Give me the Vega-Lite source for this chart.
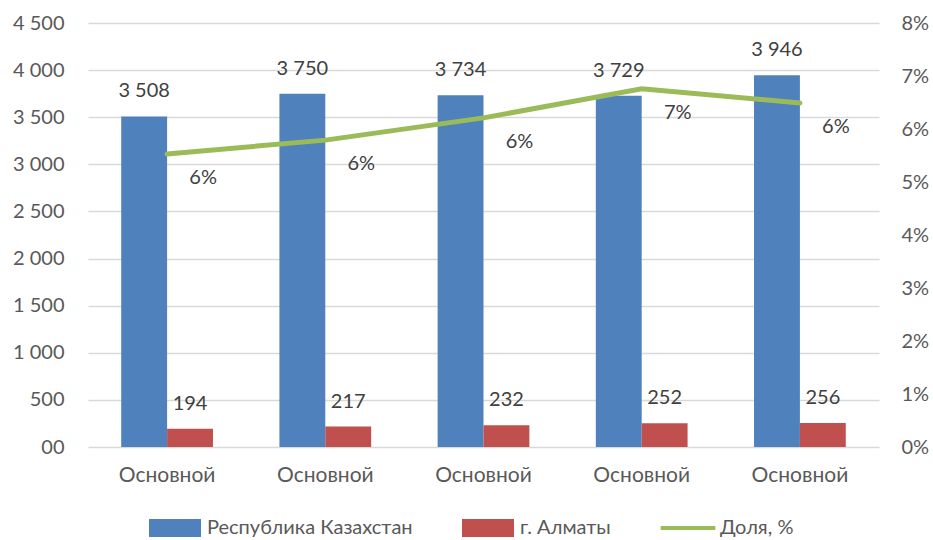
{
  "$schema": "https://vega.github.io/schema/vega-lite/v6.json",
  "width": 791,
  "height": 424,
  "autosize": {"type": "none"},
  "padding": {"left": 88, "top": 23, "right": 54, "bottom": 93},
  "config": {
    "locale": {"number": {"decimal": ",", "thousands": " ", "grouping": [3], "currency": ["", ""]}},
    "font": "Lato",
    "view": {"stroke": null},
    "axis": {"labelFont": "Lato", "labelFontSize": 20, "labelColor": "#595959", "grid": false, "domain": false, "ticks": false, "title": null},
    "legend": {"labelFont": "Lato", "labelFontSize": 20, "labelColor": "#595959", "labelLimit": 400}
  },
  "data": {
    "values": [
      {"cat": 1, "series": "Республика Казахстан", "value": 3508},
      {"cat": 1, "series": "г. Алматы", "value": 194},
      {"cat": 1, "series": "Доля, %", "value": 0.0553},
      {"cat": 2, "series": "Республика Казахстан", "value": 3750},
      {"cat": 2, "series": "г. Алматы", "value": 217},
      {"cat": 2, "series": "Доля, %", "value": 0.0579},
      {"cat": 3, "series": "Республика Казахстан", "value": 3734},
      {"cat": 3, "series": "г. Алматы", "value": 232},
      {"cat": 3, "series": "Доля, %", "value": 0.0621},
      {"cat": 4, "series": "Республика Казахстан", "value": 3729},
      {"cat": 4, "series": "г. Алматы", "value": 252},
      {"cat": 4, "series": "Доля, %", "value": 0.0676},
      {"cat": 5, "series": "Республика Казахстан", "value": 3946},
      {"cat": 5, "series": "г. Алматы", "value": 256},
      {"cat": 5, "series": "Доля, %", "value": 0.0649}
    ]
  },
  "encoding": {
    "x": {
      "field": "cat", "type": "ordinal",
      "scale": {"paddingInner": 0.42, "paddingOuter": 0.21},
      "axis": {"labelExpr": "'Основной'", "labelAngle": 0, "labelPadding": 17, "labelFontSize": 21}
    }
  },
  "layer": [
    {
      "layer": [
        {
          "mark": {"type": "bar"},
          "encoding": {
            "xOffset": {"field": "series", "type": "nominal", "scale": {"domain": ["Республика Казахстан", "г. Алматы"], "paddingInner": 0}},
            "y": {
              "field": "value", "type": "quantitative",
              "scale": {"domain": [0, 4500], "nice": false},
              "axis": {"values": [0, 500, 1000, 1500, 2000, 2500, 3000, 3500, 4000, 4500], "format": ",d", "labelExpr": "datum.value === 0 ? '00' : datum.label", "grid": true, "gridColor": "#D9D9D9", "gridWidth": 1.3, "labelPadding": 24}
            },
            "color": {
              "field": "series", "type": "nominal",
              "scale": {"domain": ["Республика Казахстан", "г. Алматы", "Доля, %"], "range": ["#4F81BD", "#C0504D", "#9BBB59"]},
              "legend": {
                "title": null, "orient": "none", "legendX": 61, "legendY": 479, "direction": "horizontal",
                "symbolSize": 2704, "labelOffset": 6, "columnPadding": 49, "symbolStrokeWidth": 0,
                "encode": {
                  "symbols": {"update": {
                    "shape": {"signal": "datum.value === 'Доля, %' ? 'M-1.05,-0.08L1.05,-0.08L1.05,0.08L-1.05,0.08Z' : 'M-1,-0.35L1,-0.35L1,0.35L-1,0.35Z'"},
                    "fill": {"signal": "scale('color', datum.value)"},
                    "strokeWidth": {"value": 0}
                  }}
                }
              }
            }
          }
        },
        {
          "mark": {"type": "text", "fontSize": 20, "color": "#404040", "baseline": "middle", "dy": -25},
          "encoding": {
            "xOffset": {"field": "series", "type": "nominal", "scale": {"domain": ["Республика Казахстан", "г. Алматы"], "paddingInner": 0}},
            "y": {"field": "value", "type": "quantitative"},
            "text": {"field": "value", "type": "quantitative", "format": ",d"}
          }
        }
      ],
      "transform": [{"filter": "datum.series !== 'Доля, %'"}]
    },
    {
      "layer": [
        {
          "mark": {"type": "line", "strokeWidth": 5, "strokeCap": "round"},
          "encoding": {
            "y": {
              "field": "value", "type": "quantitative",
              "scale": {"domain": [0, 0.08], "nice": false},
              "axis": {"orient": "right", "values": [0, 0.01, 0.02, 0.03, 0.04, 0.05, 0.06, 0.07, 0.08], "format": ".0%", "labelPadding": 22}
            },
            "color": {"field": "series", "type": "nominal"}
          }
        },
        {
          "mark": {"type": "text", "fontSize": 20, "color": "#404040", "baseline": "middle", "dx": 36, "dy": 24},
          "encoding": {
            "y": {"field": "value", "type": "quantitative"},
            "text": {"field": "value", "type": "quantitative", "format": ".0%"}
          }
        }
      ],
      "transform": [{"filter": "datum.series === 'Доля, %'"}]
    }
  ],
  "resolve": {"scale": {"y": "independent"}}
}
